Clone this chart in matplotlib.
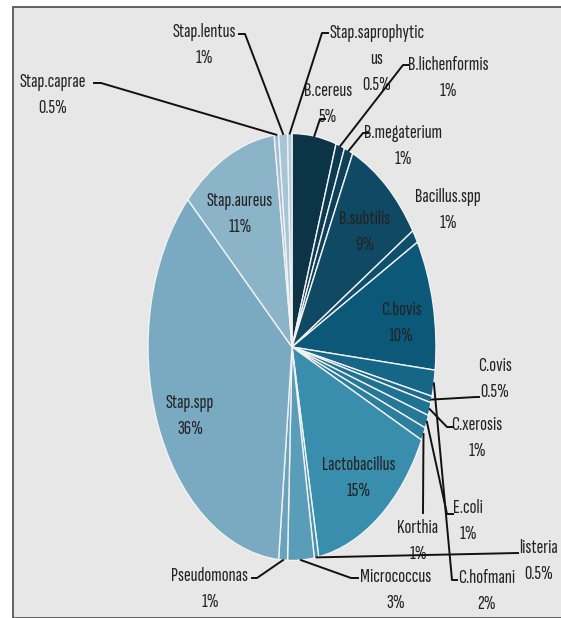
import numpy as np
import matplotlib.pyplot as plt
from matplotlib.patches import Rectangle
from matplotlib.lines import Line2D

# isolate shares (%), clockwise from 12 o'clock
names = ['B.cereus', 'B.lichenformis', 'B.megaterium', 'B.subtilis', 'Bacillus.spp',
         'C.bovis', 'C.hofmani', 'C.ovis', 'C.xerosis', 'E.coli', 'Korthia',
         'Lactobacillus', 'listeria', 'Micrococcus', 'Pseudomonas', 'Stap.spp',
         'Stap.aureus', 'Stap.caprae', 'Stap.lentus', 'Stap.saprophyticus']
shares = [5, 1, 1, 9, 1,
          10, 2, 0.5, 1, 1, 1,
          15, 0.5, 3, 1, 36,
          11, 0.5, 1, 0.5]

colors = ['#0b3447', '#0c3b50', '#0d4059', '#0f4963', '#0e4f6c',
          '#0b5879', '#156687', '#1a6c8c', '#1f7392', '#257997', '#2b7f9c',
          '#388eac', '#4793b0', '#5a9db8', '#6aa3bc', '#7aaac1',
          '#8cb4c8', '#9ebfd0', '#a8c5d5', '#b0cad8']

W, H = 561, 618
fig = plt.figure(figsize=(W / 100, H / 100), dpi=100)
fig.patch.set_facecolor('white')

def fx(x):
    return x / W

def fy(y):
    return 1 - y / H

# grey panel with dark edge
fig.add_artist(Rectangle((fx(13), 0), 1.2, fy(7), transform=fig.transFigure,
                         facecolor='#e7e7e7', edgecolor='#555555', lw=1.3, zorder=0))

cx, cy, rx, ry = 292, 347, 144, 213.5
ax = fig.add_axes([fx(cx - rx), fy(cy + ry), 2 * rx / W, 2 * ry / H])
wedges, _ = ax.pie(shares, colors=colors, startangle=90, counterclock=False,
                   wedgeprops=dict(edgecolor='#f2f2f2', linewidth=1.0))
ax.set_aspect('auto')
ax.set_xlim(-1, 1)
ax.set_ylim(-1, 1)
ax.axis('off')

font = ['Sofia Sans Extra Condensed', 'Fira Sans Extra Condensed', 'DejaVu Sans']
FS = 14.7
STEP = 26

def pct(v):
    return '%g%%' % v

# first-line centre of each label (px)
label_pos = {
    'Stap.caprae': (53, 82), 'Stap.lentus': (204, 32), 'Stap.saprophyticus': (377, 33),
    'B.lichenformis': (448, 65), 'B.cereus': (328, 91), 'B.megaterium': (403, 133),
    'Bacillus.spp': (448, 197), 'B.subtilis': (365, 219), 'C.bovis': (401, 310),
    'Stap.aureus': (240, 201), 'Stap.spp': (190, 403), 'Lactobacillus': (359, 465),
    'C.ovis': (495, 366), 'C.xerosis': (477, 425), 'E.coli': (468, 508),
    'Korthia': (418, 528), 'C.hofmani': (487, 578), 'listeria': (539, 548),
    'Micrococcus': (396, 577), 'Pseudomonas': (210, 576),
}
wrap = {'Stap.saprophyticus': ['Stap.saprophytic', 'us']}

for name, v in zip(names, shares):
    x, y = label_pos[name]
    lines = wrap.get(name, [name]) + [pct(v)]
    for k, s in enumerate(lines):
        fig.text(fx(x), fy(y + k * STEP), s, ha='center', va='center',
                 fontsize=FS, family=font, stretch='condensed', color='#222222')

# leader lines: label-side start (px) and short horizontal tail, then to wedge edge
leaders = {
    'Stap.caprae': (94, 83, 7), 'Stap.lentus': (239, 34, 6),
    'Stap.saprophyticus': (328, 33, -6), 'B.cereus': (325, 119, -5),
    'B.lichenformis': (408, 65, -5), 'B.megaterium': (368, 133, -5),
    'C.ovis': (479, 397, -3), 'C.xerosis': (453, 427, -6),
    'E.coli': (453, 514, -6), 'Korthia': (423, 513, 0),
    'C.hofmani': (457, 580, -5), 'listeria': (518, 553, 0),
    'Micrococcus': (358, 578, -7), 'Pseudomonas': (252, 578, 5),
}
to_fig = ax.transData + fig.transFigure.inverted()
fig.canvas.draw()
for name, w in zip(names, wedges):
    if name not in leaders:
        continue
    sx, sy, dx = leaders[name]
    th = np.deg2rad((w.theta1 + w.theta2) / 2)
    ex, ey = to_fig.transform((np.cos(th), np.sin(th)))
    xs = [fx(sx), fx(sx + dx), ex]
    ys = [fy(sy), fy(sy), ey]
    fig.add_artist(Line2D(xs, ys, transform=fig.transFigure, color='#111111',
                          lw=1.4, zorder=5))

fig.savefig('out.png', dpi=100)
